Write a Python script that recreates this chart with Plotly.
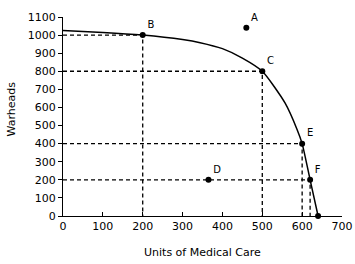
import plotly.graph_objects as go

# PPF curve points
curve_x = [0, 100, 200, 300, 344, 400, 450, 500, 557, 587, 600, 620, 640]
curve_y = [1025, 1015, 1000, 975, 958, 925, 873, 800, 625, 480, 400, 200, 0]

# Labeled points
pt_labels = ["A", "B", "C", "D", "E", "F"]
pt_x = [460, 200, 500, 365, 600, 620]
pt_y = [1040, 1000, 800, 200, 400, 200]

# Points with dashed guide lines
guide_x = [200, 500, 600, 620]
guide_y = [1000, 800, 400, 200]

end_x = [640]
end_y = [0]

x_ticks = [0, 100, 200, 300, 400, 500, 600, 700]
y_ticks = [0, 100, 200, 300, 400, 500, 600, 700, 800, 900, 1000, 1100]

x_title = "Units of Medical Care"
y_title = "Warheads"

fig = go.Figure()

for gx, gy in zip(guide_x, guide_y):
    fig.add_trace(go.Scatter(x=[0, gx, gx], y=[gy, gy, 0], mode="lines",
                             line=dict(color="black", width=1.3, dash="4px,3px"),
                             hoverinfo="skip", showlegend=False))

fig.add_trace(go.Scatter(x=curve_x, y=curve_y, mode="lines",
                         line=dict(color="black", width=1.5, shape="spline", smoothing=0.6),
                         showlegend=False))

fig.add_trace(go.Scatter(x=pt_x, y=pt_y, mode="markers+text", text=pt_labels,
                         textposition="top right", cliponaxis=False,
                         textfont=dict(family="DejaVu Sans", size=10, color="black"),
                         marker=dict(color="black", size=6), showlegend=False))

fig.add_trace(go.Scatter(x=end_x, y=end_y, mode="markers", cliponaxis=False,
                         marker=dict(color="black", size=6), showlegend=False))

fig.update_layout(
    width=355, height=264,
    margin=dict(l=63, r=13, t=17, b=48, autoexpand=False),
    paper_bgcolor="white", plot_bgcolor="white",
    font=dict(family="DejaVu Sans", size=11, color="black"),
    showlegend=False,
    annotations=[
        dict(text=x_title, xref="paper", yref="paper", x=0.5, y=-0.181,
             xanchor="center", yanchor="middle", showarrow=False,
             font=dict(size=11)),
        dict(text=y_title, xref="paper", yref="paper", x=-0.183, y=0.54,
             xanchor="center", yanchor="middle", showarrow=False, textangle=-90,
             font=dict(size=11)),
    ],
)
fig.update_xaxes(range=[0, 700], tickvals=x_ticks, showgrid=False, zeroline=False,
                 showline=True, linecolor="black", linewidth=1, automargin=False,
                 ticks="inside", ticklen=4, tickcolor="black")
fig.update_yaxes(range=[0, 1100], tickvals=y_ticks, showgrid=False, zeroline=False,
                 showline=True, linecolor="black", linewidth=1, automargin=False,
                 ticks="outside", ticklen=4, tickcolor="black")

fig.write_html("out.html")
